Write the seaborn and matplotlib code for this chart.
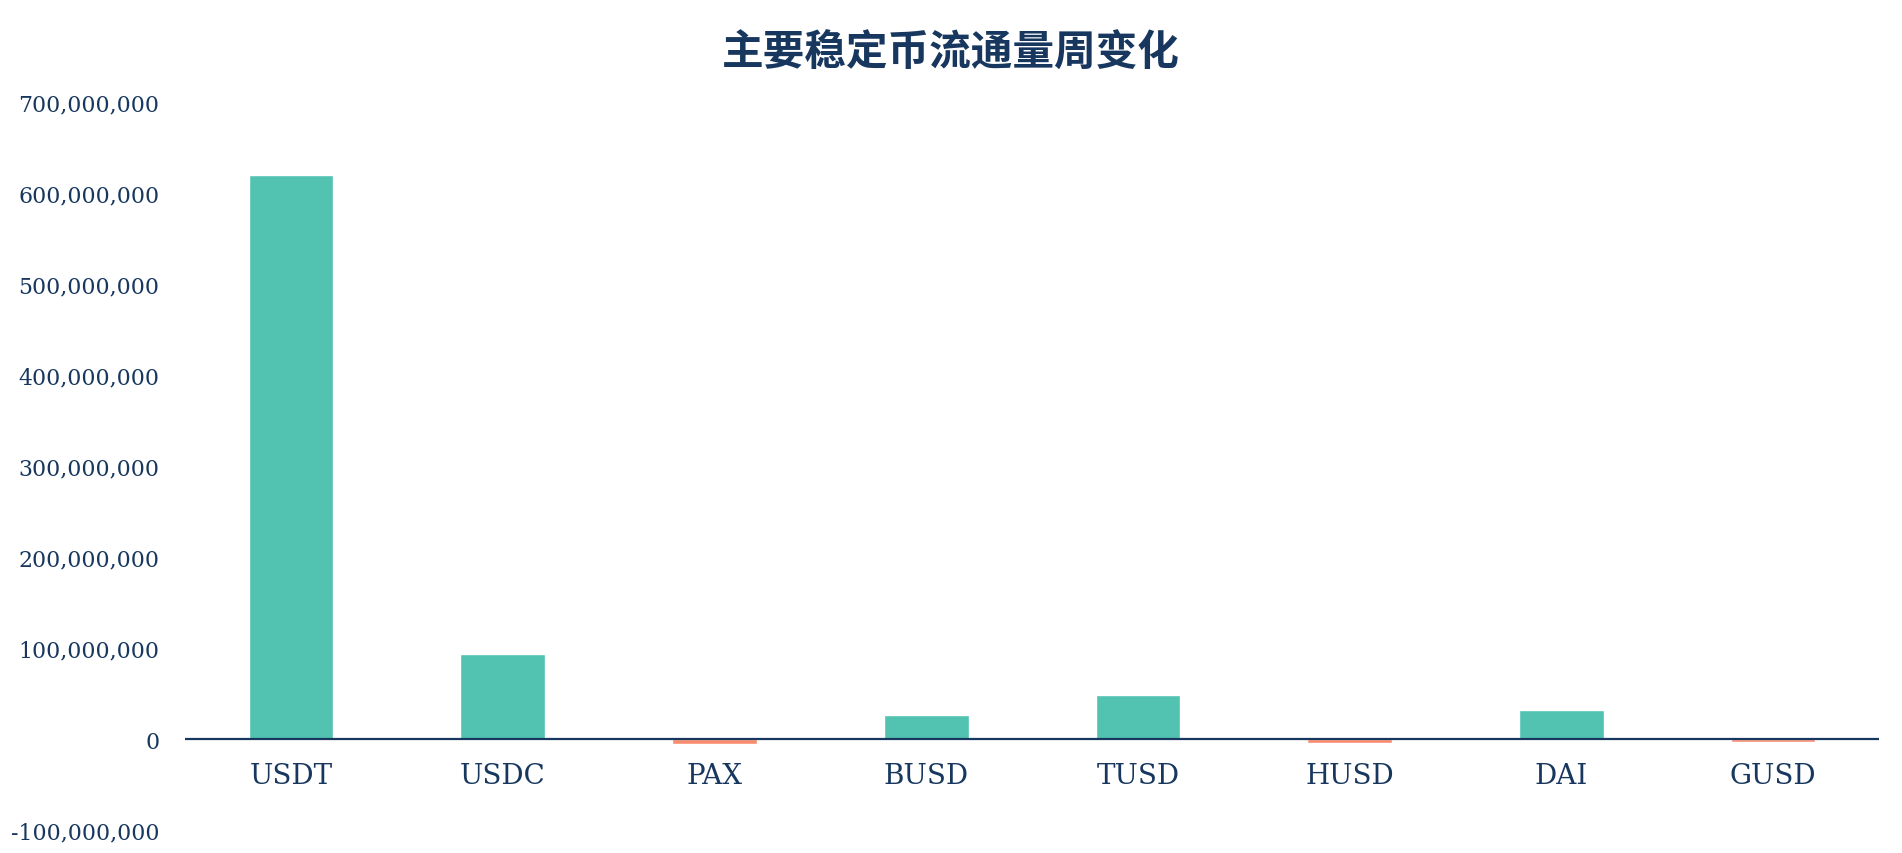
import seaborn as sns
import matplotlib.pyplot as plt
from matplotlib.ticker import FuncFormatter
import pandas as pd

coins = ["USDT", "USDC", "PAX", "BUSD", "TUSD", "HUSD", "DAI", "GUSD"]
weekly_change = [619500000, 93500000, -5500000, 26500000, 48500000, -4000000, 32000000, -3000000]

title = "主要稳定币流通量周变化"
navy = "#17375E"
teal = "#52C2B1"
salmon = "#FA8C6E"

df = pd.DataFrame({"coin": coins, "change": weekly_change})
df["sign"] = ["up" if v >= 0 else "down" for v in df["change"]]

sns.set_style("white")
plt.rcParams['font.family'] = ['DejaVu Serif', 'Noto Sans CJK SC']

fig = plt.figure(figsize=(19.02, 8.54), dpi=100)
ax = fig.add_axes([0.0973, 0.0269, 0.8906, 0.8525])

sns.barplot(data=df, x="coin", y="change", hue="sign",
            palette={"up": teal, "down": salmon},
            dodge=False, width=0.4, legend=False, ax=ax, saturation=1)

ax.set_ylim(-100000000, 700000000)
ax.set_yticks(range(-100000000, 700000001, 100000000))
ax.yaxis.set_major_formatter(FuncFormatter(lambda v, _: f"{int(v):,}"))
ax.axhline(0, color=navy, lw=1.6, zorder=3)

for s in ax.spines.values():
    s.set_visible(False)
ax.tick_params(axis="y", length=0, pad=18.5, labelsize=15.8, labelcolor=navy)
ax.set_xlabel("")
ax.set_ylabel("")

# x labels sit just under the zero line, not at the bottom of the axes
ax.set_xticks(range(len(coins)))
ax.set_xticklabels([])
ax.tick_params(axis="x", length=0)
for i, c in enumerate(coins):
    ax.annotate(c, (i, 0), xytext=(0, -26), textcoords="offset points",
                ha="center", va="center", fontsize=20, color=navy)

fig.text(0.5, 0.937, title, ha="center", va="center", fontsize=30,
         fontweight="bold", color=navy, family=['Noto Sans CJK SC', 'DejaVu Sans'])

fig.savefig("out.png", dpi=100)
